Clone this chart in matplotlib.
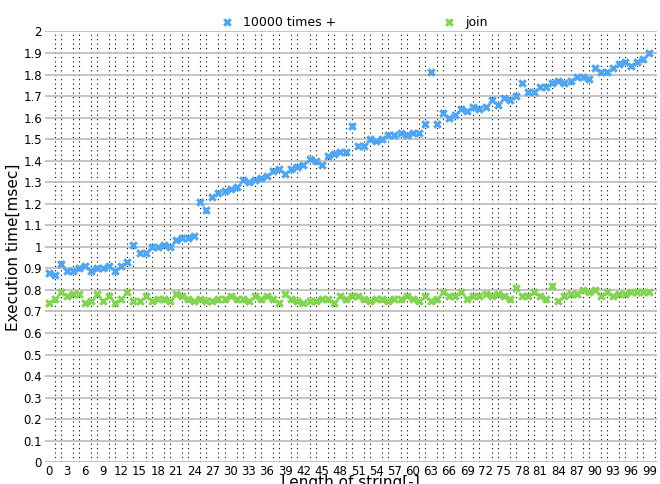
import numpy as np
import matplotlib.pyplot as plt

plus_times = [0.88, 0.87, 0.92, 0.89, 0.89, 0.90, 0.91, 0.89, 0.90, 0.90,
              0.91, 0.89, 0.91, 0.93, 1.01, 0.97, 0.97, 1.00, 1.00, 1.01,
              1.00, 1.03, 1.04, 1.04, 1.05, 1.21, 1.17, 1.23, 1.25, 1.26,
              1.27, 1.28, 1.31, 1.30, 1.31, 1.32, 1.33, 1.35, 1.36, 1.34,
              1.36, 1.37, 1.38, 1.41, 1.40, 1.38, 1.42, 1.43, 1.44, 1.44,
              1.56, 1.47, 1.47, 1.50, 1.49, 1.50, 1.52, 1.52, 1.53, 1.52,
              1.53, 1.53, 1.57, 1.81, 1.57, 1.62, 1.60, 1.61, 1.64, 1.63,
              1.65, 1.64, 1.65, 1.68, 1.66, 1.69, 1.68, 1.70, 1.76, 1.72,
              1.72, 1.74, 1.74, 1.76, 1.77, 1.76, 1.77, 1.79, 1.79, 1.78,
              1.83, 1.81, 1.81, 1.83, 1.85, 1.86, 1.84, 1.86, 1.87, 1.90]
join_times = [0.74, 0.76, 0.79, 0.77, 0.78, 0.78, 0.74, 0.75, 0.78, 0.75,
              0.77, 0.74, 0.76, 0.79, 0.75, 0.75, 0.77, 0.75, 0.76, 0.76,
              0.75, 0.78, 0.77, 0.76, 0.75, 0.76, 0.75, 0.75, 0.76, 0.76,
              0.77, 0.76, 0.76, 0.75, 0.77, 0.76, 0.77, 0.76, 0.74, 0.78,
              0.76, 0.75, 0.74, 0.75, 0.75, 0.76, 0.76, 0.74, 0.77, 0.76,
              0.77, 0.77, 0.76, 0.75, 0.76, 0.76, 0.75, 0.76, 0.76, 0.77,
              0.76, 0.75, 0.77, 0.75, 0.76, 0.79, 0.77, 0.77, 0.79, 0.76,
              0.77, 0.77, 0.78, 0.77, 0.78, 0.77, 0.76, 0.81, 0.77, 0.77,
              0.79, 0.77, 0.76, 0.82, 0.75, 0.77, 0.78, 0.78, 0.80, 0.79,
              0.80, 0.77, 0.79, 0.77, 0.78, 0.78, 0.79, 0.79, 0.79, 0.79]
lengths = np.arange(len(plus_times))

fig, ax = plt.subplots(figsize=(6.6, 4.84), dpi=100)
fig.subplots_adjust(left=0.068, right=0.995, top=0.935, bottom=0.045)

ax.scatter(lengths, plus_times, marker='x', s=22, linewidths=2.2,
           color='#4da6f5', label='10000 times +', zorder=3)
ax.scatter(lengths, join_times, marker='x', s=22, linewidths=2.2,
           color='#7fd64c', label='join', zorder=3)

ax.set_xlim(-0.6, 100.2)
ax.set_ylim(0, 2)
ax.set_xticks(np.arange(0, 100, 3))
ax.set_xticks(np.arange(0, 101, 1), minor=True)
ax.set_yticks(np.arange(0, 2.01, 0.1))
ax.set_yticklabels(['0' if v == 0 else f'{v:g}' for v in np.round(np.arange(0, 2.01, 0.1), 1)])
ax.grid(axis='y', which='major', color='#bbbbbb', linewidth=1.2)
ax.grid(axis='x', which='minor', color='black', linestyle=(0, (1, 3)), linewidth=0.8)
ax.tick_params(which='both', length=0, labelsize=8.5, pad=2)
for s in ax.spines.values():
    s.set_visible(False)
ax.set_axisbelow(True)

ax.set_xlabel('Length of string[-]', fontsize=11, labelpad=-2)
ax.set_ylabel('Execution time[msec]', fontsize=11, labelpad=2)
ax.legend(loc='lower center', bbox_to_anchor=(0.5, 0.995), ncol=2, frameon=False,
          fontsize=9, columnspacing=8, handletextpad=0.3, borderaxespad=0)

plt.savefig('out.png', dpi=100, facecolor='white')
